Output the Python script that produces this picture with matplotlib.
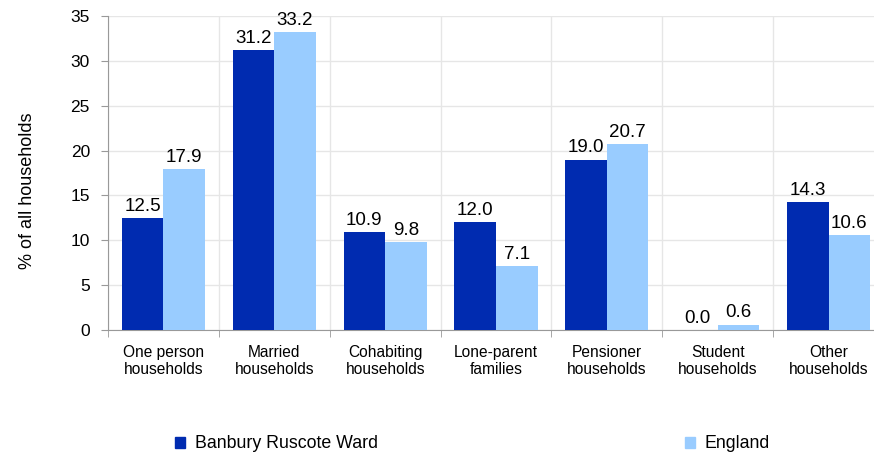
import numpy as np
import matplotlib
matplotlib.use("Agg")
import matplotlib.pyplot as plt
from matplotlib.patches import Patch

categories = ["One person\nhouseholds", "Married\nhouseholds", "Cohabiting\nhouseholds",
              "Lone-parent\nfamilies", "Pensioner\nhouseholds", "Student\nhouseholds",
              "Other\nhouseholds"]
ward = [12.5, 31.2, 10.9, 12.0, 19.0, 0.0, 14.3]
england = [17.9, 33.2, 9.8, 7.1, 20.7, 0.6, 10.6]
series_names = ["Banbury Ruscote Ward", "England"]
colors = ["#002bb0", "#99ccff"]

plt.rcParams["font.family"] = ["Liberation Sans", "DejaVu Sans"]
fig = plt.figure(figsize=(8.74, 4.57), dpi=100)
ax = fig.add_axes([108 / 874, 127 / 457, 776 / 874, 314 / 457])

x = np.arange(len(categories))
w = 0.375
b1 = ax.bar(x - w / 2, ward, w, color=colors[0], zorder=3)
b2 = ax.bar(x + w / 2, england, w, color=colors[1], zorder=3)
for bars, vals in ((b1, ward), (b2, england)):
    for r, v in zip(bars, vals):
        ax.text(r.get_x() + r.get_width() / 2, v + 0.8, f"{v:.1f}",
                ha="center", va="baseline", fontsize=13.5, zorder=4)

ax.set_xlim(-0.5, len(categories) - 0.5)
ax.set_ylim(0, 35)
ax.set_yticks(range(0, 36, 5))
ax.set_xticks(x)
ax.set_xticklabels(categories, fontsize=11.2, linespacing=1.12)
ax.set_xticks(np.arange(-0.5, len(categories), 1), minor=True)
ax.tick_params(axis="x", which="major", length=0, pad=11)
ax.tick_params(axis="x", which="minor", length=5, color="#999999", direction="out")
ax.tick_params(axis="y", labelsize=12.5, length=5, pad=8, color="#999999")
ax.grid(axis="y", color="#e6e6e6", lw=1, zorder=0)
ax.grid(axis="x", which="minor", color="#e6e6e6", lw=1, zorder=0)
for s in ("top", "right"):
    ax.spines[s].set_visible(False)
for s in ("left", "bottom"):
    ax.spines[s].set_color("#999999")
ax.set_ylabel("% of all households", fontsize=13)
ax.yaxis.set_label_coords(-0.093, 0.443)

leg_kw = dict(loc="center left", frameon=False, fontsize=12.8, handlelength=0.55,
              handleheight=0.55, handletextpad=0.55, borderpad=0, borderaxespad=0)
fig.legend(handles=[Patch(color=colors[0])], labels=[series_names[0]],
           bbox_to_anchor=(175 / 874, 1 - 444 / 457), **leg_kw)
fig.legend(handles=[Patch(color=colors[1])], labels=[series_names[1]],
           bbox_to_anchor=(685 / 874, 1 - 444 / 457), **leg_kw)

fig.savefig("out.png", dpi=100)
